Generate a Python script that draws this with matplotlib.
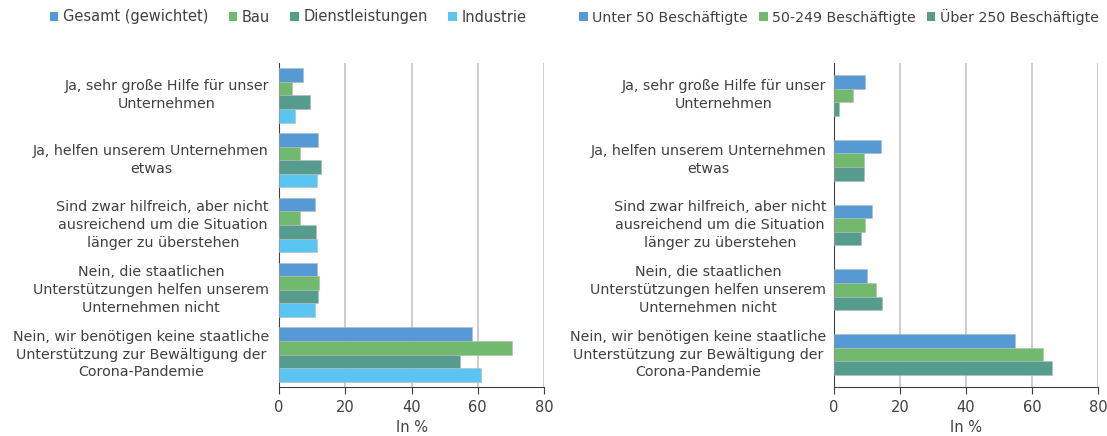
import matplotlib
matplotlib.use("Agg")
import matplotlib.pyplot as plt
from matplotlib.patches import Patch
import numpy as np

plt.rcParams['font.family'] = ['DejaVu Sans']

categories = [
    "Ja, sehr große Hilfe für unser\nUnternehmen",
    "Ja, helfen unserem Unternehmen\netwas",
    "Sind zwar hilfreich, aber nicht\nausreichend um die Situation\nlänger zu überstehen",
    "Nein, die staatlichen\nUnterstützungen helfen unserem\nUnternehmen nicht",
    "Nein, wir benötigen keine staatliche\nUnterstützung zur Bewältigung der\nCorona-Pandemie",
]

# Left chart: by sector
sector_names = ["Gesamt (gewichtet)", "Bau", "Dienstleistungen", "Industrie"]
gesamt = [7.3, 11.7, 10.8, 11.5, 58.3]
bau = [4.0, 6.4, 6.4, 12.2, 70.4]
dienst = [9.5, 12.8, 11.3, 11.9, 54.5]
industrie = [4.9, 11.5, 11.5, 11.0, 60.9]

# Right chart: by company size
size_names = ["Unter 50 Beschäftigte", "50-249 Beschäftigte", "Über 250 Beschäftigte"]
unter50 = [9.5, 14.1, 11.5, 10.0, 54.9]
mittel = [5.9, 9.2, 9.4, 12.6, 63.3]
ueber250 = [1.6, 9.1, 8.3, 14.6, 66.2]

xticks = [0, 20, 40, 60, 80]

C_BLUE = "#5599d5"
C_GREEN = "#71ba6d"
C_TEAL = "#559c8c"
C_LIGHT = "#5ac5f1"
TXT = "#404040"

W, H = 1107, 436
fig = plt.figure(figsize=(W / 100, H / 100), dpi=100)


def make_axes(x0, x1, y0, y1):
    return fig.add_axes([x0 / W, 1 - y1 / H, (x1 - x0) / W, (y1 - y0) / H])


def draw(ax, series, colors, pad):
    n = len(series)
    h = 0.21
    y = np.arange(len(categories))
    for i, (vals, col) in enumerate(zip(series, colors)):
        ax.barh(y + (i - (n - 1) / 2) * h, vals, height=h, color=col,
                edgecolor="#b8b8b8", linewidth=0.4, zorder=3)
    ax.set_ylim(len(categories) - 0.5, -0.5)
    ax.set_xlim(0, 80)
    ax.set_xticks(xticks)
    ax.set_xticklabels([str(t) for t in xticks], fontsize=10.5, color=TXT)
    ax.set_yticks(y)
    ax.set_yticklabels(categories, fontsize=10.3, color=TXT, ha="right",
                       multialignment="center", va="center", linespacing=1.35)
    ax.tick_params(axis="y", length=0, pad=pad)
    ax.tick_params(axis="x", length=5, color="#404040", width=0.8, pad=4)
    ax.grid(axis="x", color="#c8c8c8", linewidth=1.3, zorder=0)
    for s in ["top", "right"]:
        ax.spines[s].set_visible(False)
    for s in ["left", "bottom"]:
        ax.spines[s].set_color("#404040")
        ax.spines[s].set_linewidth(0.8)
    ax.set_xlabel("In %", fontsize=10.5, color=TXT, labelpad=4)


axL = make_axes(279, 544, 63, 387)
draw(axL, [gesamt, bau, dienst, industrie], [C_BLUE, C_GREEN, C_TEAL, C_LIGHT], 7.2)

axR = make_axes(834, 1098, 63, 387)
draw(axR, [unter50, mittel, ueber250], [C_BLUE, C_GREEN, C_TEAL], 5.5)

hL = [Patch(facecolor=c, edgecolor="none") for c in [C_BLUE, C_GREEN, C_TEAL, C_LIGHT]]
fig.legend(hL, sector_names, loc="center", bbox_to_anchor=(288 / W, 1 - 17 / H),
           ncol=4, frameon=False, fontsize=10.5, handlelength=0.6, handleheight=0.6,
           handletextpad=0.3, columnspacing=1.4, labelcolor=TXT)
hR = [Patch(facecolor=c, edgecolor="none") for c in [C_BLUE, C_GREEN, C_TEAL]]
fig.legend(hR, size_names, loc="center", bbox_to_anchor=(839 / W, 1 - 17 / H),
           ncol=3, frameon=False, fontsize=10.2, handlelength=0.6, handleheight=0.6,
           handletextpad=0.3, columnspacing=0.8, labelcolor=TXT)

fig.savefig("out.png", dpi=100)
